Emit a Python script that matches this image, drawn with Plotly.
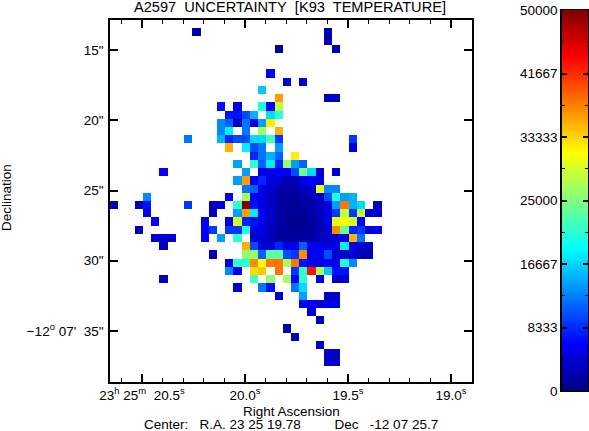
import plotly.graph_objects as go

W, H = 589, 431
N_GRID = 44

# Pixel values: row index -> {column index: uncertainty}
pixels = {
 1: {10:2000, 26:2000},
 2: {26:2000},
 3: {20:1500, 27:3000},
 6: {19:6000},
 7: {21:4000, 23:4000},
 8: {18:16000},
 9: {20:36000, 26:3000, 27:3500},
 10: {13:7000, 15:5000, 18:20000, 19:6000, 20:28000},
 11: {14:7000, 15:7000, 16:10000, 17:15000, 19:17000, 20:21000},
 12: {13:13000, 14:11000, 15:3000, 16:12000, 17:5000, 18:14000, 19:32000},
 13: {13:13000, 14:18000, 16:12000, 18:27000, 20:35000},
 14: {9:12000, 13:15000, 14:8000, 15:10000, 16:10000, 17:17000, 18:17000, 19:22000, 20:9000, 29:9000},
 15: {14:35000, 16:18000, 17:10000, 18:12000, 20:14000, 29:5000},
 16: {17:8000, 18:12000, 19:15000, 20:11000, 22:32000},
 17: {15:14000, 17:21000, 18:11000, 19:18000, 20:8000, 21:26000, 22:14000, 23:11000},
 18: {6:6000, 16:14000, 18:5000, 19:5000, 20:6000, 21:6000, 22:10000, 23:24000, 24:17000, 25:4000, 27:4000},
 19: {15:14000, 16:36000, 17:6000, 18:8000, 19:5000, 20:4000, 21:2500, 22:2500, 23:5000, 24:6000, 25:5000},
 20: {16:12000, 17:11000, 18:5000, 19:4000, 20:2500, 21:2000, 22:2000, 23:3000, 24:4000, 25:30000, 26:13000, 27:13000},
 21: {4:13000, 14:6000, 16:27000, 17:6000, 18:5000, 19:3500, 20:2000, 21:1500, 22:1500, 23:2000, 24:2500, 25:4000, 26:10000, 27:20000, 28:14000, 29:15000},
 22: {0:2500, 3:3000, 4:7000, 9:9000, 12:3000, 13:5000, 15:21000, 16:50000, 17:7000, 18:5000, 19:3500, 20:2000, 21:1500, 22:1200, 23:1500, 24:2000, 25:3000, 26:5000, 27:14000, 28:38000, 29:15000, 30:17000, 32:3000},
 23: {4:5000, 12:3500, 15:14000, 16:36000, 17:18000, 18:6000, 19:4000, 20:2000, 21:1500, 22:1200, 23:1200, 24:2000, 25:3000, 26:5000, 27:9000, 28:28000, 29:9000, 30:28000, 31:4000, 32:4000},
 24: {5:6000, 11:5000, 14:5000, 15:29000, 16:8000, 17:7000, 18:5000, 19:3500, 20:2000, 21:1200, 22:1000, 23:1200, 24:1500, 25:3000, 26:5000, 27:30000, 28:31000, 29:29000, 30:6000},
 25: {3:3000, 11:6000, 12:9000, 14:9000, 15:9000, 16:20000, 17:5000, 18:5000, 19:3000, 20:2000, 21:1200, 22:1000, 23:1200, 24:1500, 25:2500, 26:4000, 27:37000, 28:24000, 29:8000, 30:9000, 31:4500, 32:6000},
 26: {5:4000, 6:4000, 7:4000, 11:6000, 13:14000, 15:21000, 17:4500, 18:4000, 19:3000, 20:1500, 21:1500, 22:1500, 23:1500, 24:2000, 25:3000, 26:3500, 27:4000, 28:5000, 29:35000, 30:12000},
 27: {6:3000, 16:35000, 17:10000, 18:4500, 19:4500, 20:8000, 21:5000, 22:6000, 23:11000, 24:6000, 25:5000, 26:5000, 27:5000, 28:18000, 29:5000, 30:4000, 31:3000},
 28: {12:2500, 16:26000, 17:26000, 18:11000, 19:23000, 20:23000, 21:10000, 22:9000, 23:37000, 24:5000, 25:6000, 26:10000, 27:4000, 28:4000, 29:4000, 30:3000, 31:2500},
 29: {14:5000, 15:21000, 16:21000, 17:37000, 18:31000, 19:38000, 20:38000, 21:27000, 22:38000, 23:7000, 24:5000, 25:5000, 26:6000, 27:5000, 28:20000, 29:13000},
 30: {14:13000, 15:6000, 17:33000, 18:34000, 20:38000, 22:9000, 23:21000, 24:43000, 25:27000, 26:16000, 27:7000, 28:7000},
 31: {6:3000, 17:22000, 19:26000, 21:27000, 22:6000, 23:21000, 25:5000, 27:4000, 28:4000},
 32: {15:4000, 18:12000, 19:7000, 22:12000, 23:17000},
 33: {20:4000, 23:14000, 26:3500, 27:3500},
 34: {23:6000, 24:6000, 25:5000, 26:5000, 27:5000},
 35: {24:4000},
 36: {25:2500},
 37: {21:2500},
 38: {22:2500},
 39: {25:3500},
 40: {26:3500, 27:3500},
 41: {26:3500, 27:3500},
}

ra_ticks = [20.5, 20.0, 19.5, 19.0]
ra_minor = [20.6, 20.4, 20.3, 20.2, 20.1, 19.9, 19.8, 19.7, 19.6, 19.4, 19.3, 19.2, 19.1, 18.9]
ra_labels = ["23<sup>h</sup>\u00a025<sup>m</sup>\u00a0\u00a020.5<sup>s</sup>", "20.0<sup>s</sup>", "19.5<sup>s</sup>", "19.0<sup>s</sup>"]
dec_ticks = [15, 20, 25, 30, 35]
dec_labels = ['15"', '20"', '25"', '30"', "\u221212<sup>o</sup>\u00a007'\u00a0\u00a035\""]
cbar_ticks = [0, 8333, 16667, 25000, 33333, 41667, 50000]
cbar_minor = [4167, 12500, 20833, 29167, 37500, 45833]
cbar_labels = ["0", "8333", "16667", "25000", "33333", "41667", "50000"]

ra_range = [20.655, 18.898]
dec_range = [38.63, 12.865]
ra_step = (ra_range[1] - ra_range[0]) / N_GRID
dec_step = (dec_range[0] - dec_range[1]) / N_GRID

z = [[pixels.get(r, {}).get(c) for c in range(N_GRID)] for r in range(N_GRID)]

jet = [[0, "#00007f"], [0.125, "#0000ff"], [0.375, "#00ffff"],
       [0.625, "#ffff00"], [0.875, "#ff0000"], [1, "#7f0000"]]

fig = go.Figure()
fig.add_trace(go.Heatmap(
    z=z, x0=ra_range[0] + ra_step / 2, dx=ra_step,
    y0=dec_range[1] + dec_step / 2, dy=dec_step,
    colorscale=jet, zmin=0, zmax=50000, showscale=False, hoverongaps=False,
))
ramp = list(range(0, 50001, 250))
fig.add_trace(go.Heatmap(
    z=[[v] for v in ramp], y=ramp, x=[0], colorscale=jet, zmin=0, zmax=50000,
    showscale=False, xaxis="x2", yaxis="y2",
))

font = "Liberation Sans"
axis_line = dict(showline=True, linecolor="black", linewidth=1.5, mirror="allticks",
                 showgrid=False, zeroline=False, ticks="inside", tickcolor="black",
                 tickwidth=1.5, automargin=False)
fig.update_layout(
    width=W, height=H, margin=dict(l=0, r=0, t=0, b=0, autoexpand=False), autosize=False,
    paper_bgcolor="white", plot_bgcolor="white",
    font=dict(family=font, size=13.5, color="black"),
    xaxis=dict(domain=[110 / W, 472 / W], range=ra_range, tickvals=ra_ticks, ticktext=ra_labels,
               ticklen=8, minor=dict(tickmode="array", tickvals=ra_minor, ticks="inside", ticklen=4,
                                     tickcolor="black", tickwidth=1.2, showgrid=False),
               tickfont=dict(size=13.5), **axis_line),
    yaxis=dict(domain=[(H - 382) / H, (H - 20) / H], range=dec_range, tickvals=dec_ticks,
               ticktext=dec_labels, ticklen=8, tickfont=dict(size=13.5), ticklabelstandoff=2, **axis_line),
    xaxis2=dict(domain=[562 / W, 588 / W], anchor="y2", range=[-0.5, 0.5], showticklabels=False,
                showline=True, linecolor="black", linewidth=1.2, mirror=True, ticks="", showgrid=False,
                zeroline=False, automargin=False),
    yaxis2=dict(domain=[(H - 391) / H, (H - 10) / H], anchor="x2", range=[0, 50000],
                tickvals=cbar_ticks, ticktext=cbar_labels, ticklen=5, tickfont=dict(size=13.5),
                minor=dict(tickmode="array", tickvals=cbar_minor, ticks="inside", ticklen=3, tickcolor="black",
                           tickwidth=1, showgrid=False),
                **axis_line),
    annotations=[
        dict(text="A2597\u00a0 UNCERTAINTY\u00a0 [K93\u00a0 TEMPERATURE]", x=290 / W, y=(H - 7) / H, xref="paper", yref="paper",
             showarrow=False, xanchor="center", yanchor="middle", font=dict(size=14.6)),
        dict(text="Right Ascension", x=291 / W, y=(H - 411) / H, xref="paper", yref="paper",
             showarrow=False, xanchor="center", yanchor="middle", font=dict(size=13.5)),
        dict(text="Center:\u00a0\u00a0\u00a0R.A. 23 25 19.78\u00a0\u00a0\u00a0\u00a0\u00a0\u00a0\u00a0\u00a0\u00a0Dec\u00a0\u00a0\u00a0-12 07 25.7", x=291 / W, y=(H - 424) / H,
             xref="paper", yref="paper", showarrow=False, xanchor="center", yanchor="middle",
             font=dict(size=13.5)),
        dict(text="Declination", x=7 / W, y=(H - 198) / H, xref="paper", yref="paper", showarrow=False,
             textangle=-90, xanchor="center", yanchor="middle", font=dict(size=13.5)),
    ],
)
fig.write_html("out.html", config=dict(displayModeBar=False),
               post_script="document.body.style.margin='0';document.body.style.overflow='hidden';")
